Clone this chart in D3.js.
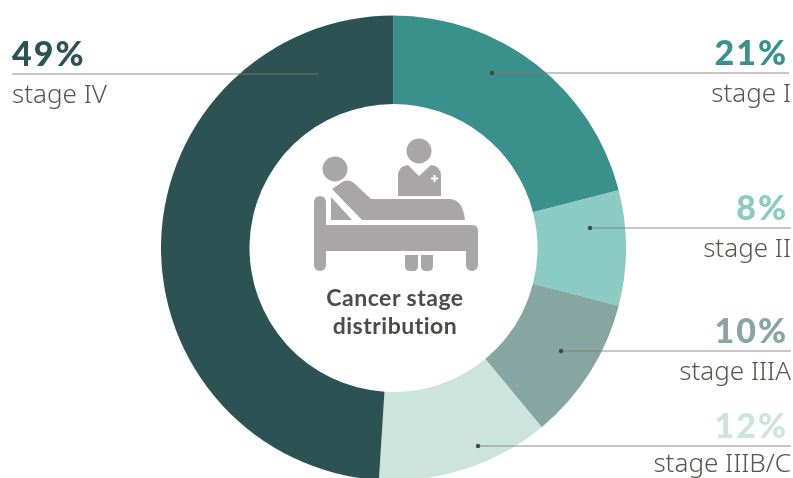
<!DOCTYPE html>
<html><head><meta charset="utf-8">
<script src="https://cdn.jsdelivr.net/npm/d3@7/dist/d3.min.js"></script>
<style>html,body{margin:0;padding:0;background:#fff}svg{display:block;filter:blur(.35px)}</style>
</head><body><svg id="c" width="793" height="478"></svg>
<script>
const stages = ["stage I","stage II","stage IIIA","stage IIIB/C","stage IV"];
const shares = [21,8,10,12,49];
const colors = ["#3a918c","#8ccbc3","#87a5a1","#cde4dc","#2d5254"];
const title = ["Cancer stage","distribution"];

const W=793,H=478,cx=393.5,cy=248,R=232.5,r=144;
const svg=d3.select("#c").attr("viewBox",[0,0,W,H]);
const pie=d3.pie().sort(null).value(d=>d)(shares);
const arc=d3.arc().innerRadius(r).outerRadius(R);
svg.append("g").attr("transform",`translate(${cx},${cy})`)
  .selectAll("path").data(pie).join("path").attr("d",arc).attr("fill",(d,i)=>colors[i]);

// annotation layout: leader y, leader start x, leader end x, anchor side, label baseline offset
const layout=[
 {y:73, x0:492,x1:789,side:"end",dot:true,sub:29},
 {y:228,x0:590,x1:791,side:"end",dot:true,sub:29},
 {y:351,x0:561,x1:791,side:"end",dot:true,sub:29},
 {y:446,x0:478,x1:791,side:"end",dot:true,sub:26},
 {y:74, x0:12, x1:318,side:"start",dot:false,sub:29}
];
layout.forEach((l,i)=>{
  svg.append("line").attr("x1",l.x0).attr("x2",l.x1).attr("y1",l.y).attr("y2",l.y)
    .attr("stroke","#8a7770").attr("stroke-width",1).attr("stroke-opacity",.85);
  if(l.dot) svg.append("circle").attr("cx",l.x0).attr("cy",l.y).attr("r",2.2).attr("fill","#3d4a4a");
  const tx=l.side==="end"?791:l.x0;
  svg.append("text").attr("x",tx-(l.side==="end"?3:0)).attr("y",l.y-8).attr("text-anchor",l.side)
    .attr("font-family","Lato, sans-serif")
    .attr("font-size",34).attr("font-weight",900).attr("fill",colors[i])
    .attr("letter-spacing",2).text(shares[i]+"%");
  svg.append("text").attr("x",tx).attr("y",l.y+l.sub).attr("text-anchor",l.side)
    .attr("font-family","'Noto Sans', sans-serif")
    .attr("font-size",26).attr("font-weight",300).attr("fill","#5a5250").text(stages[i]);
});

// icon
const g=svg.append("g").attr("fill","#a8a6a6");
g.append("circle").attr("cx",335).attr("cy",169).attr("r",12.5);
g.append("circle").attr("cx",419).attr("cy",151).attr("r",12.5);
g.append("path").attr("d","M398 196V176Q398 166 408 165L419 176L431 165Q441 166 441 176V196Z");
g.append("path").attr("fill","#fff").attr("d","M431 177.500h2.500v-2.500h2v2.500h2.500v2h-2.500v2.500h-2v-2.500h-2.500Z");
g.append("path").attr("d","M332 189L344 181Q350 179 355 184L371 199H450Q463 200 465 220H362Z");
g.append("path").attr("d","M331 197L352 220H331Z");
g.append("rect").attr("x",314).attr("y",196).attr("width",12).attr("height",75).attr("rx",6);
g.append("path").attr("d","M326 225H472Q478 225 478 231V265A6 6 0 0 1 466 265V251H326Z");
g.append("path").attr("d","M405 255H418V266Q418 271 413 271H410Q405 271 405 266Z");
g.append("path").attr("d","M421 255H433V266Q433 271 428 271H426Q421 271 421 266Z");
title.forEach((t,i)=>svg.append("text").attr("x",395).attr("y",306+i*27.5).attr("text-anchor","middle")
  .attr("font-family","Lato, sans-serif").attr("letter-spacing",.5)
  .attr("font-size",23).attr("font-weight",700).attr("fill","#4f4a4a").text(t));
</script></body></html>
